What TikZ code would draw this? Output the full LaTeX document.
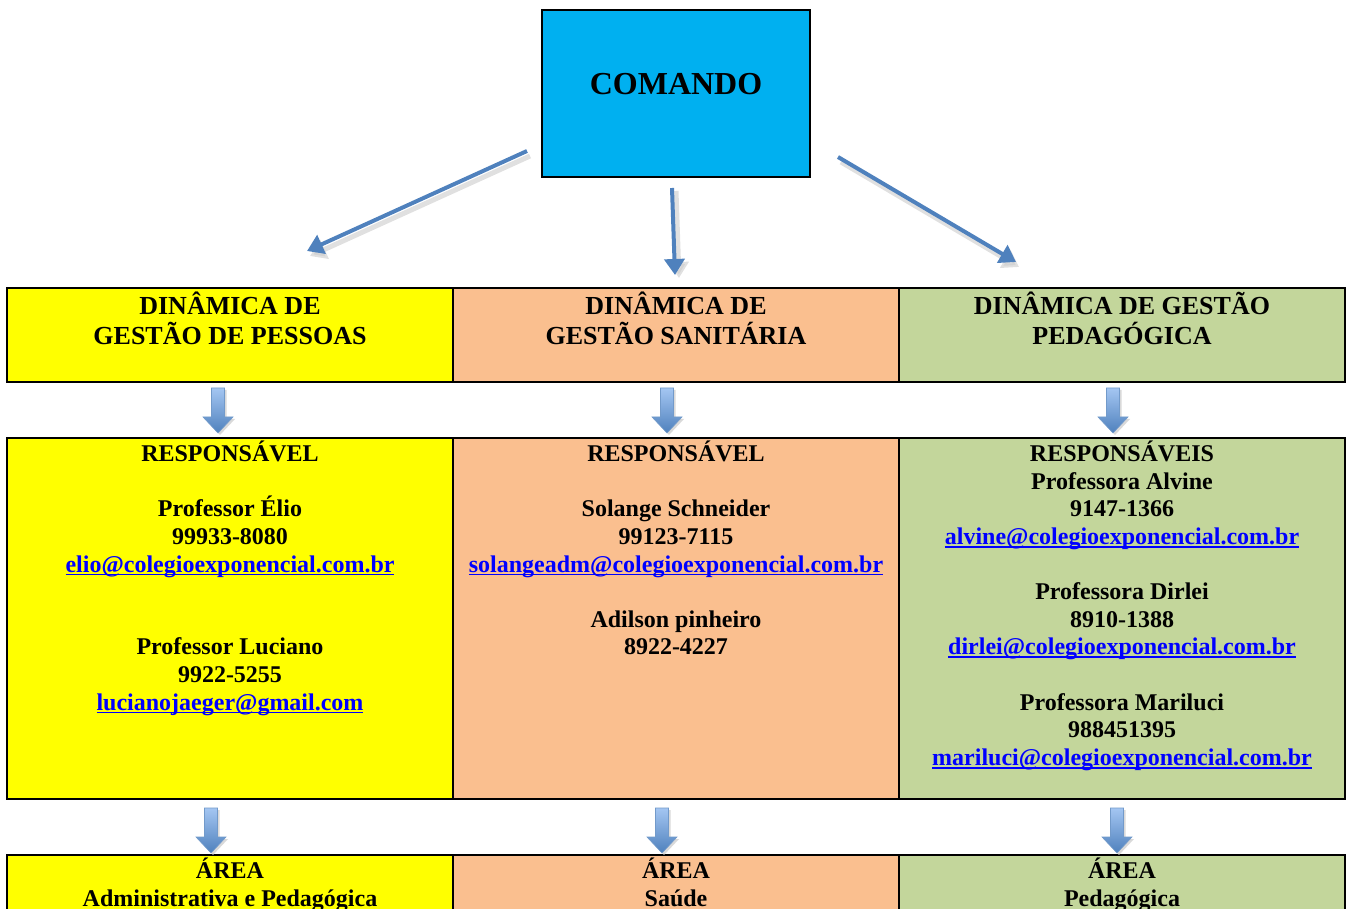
\documentclass[tikz,border=0pt]{standalone}
\usepackage{fontspec}
\setmainfont{Liberation Serif}
\usetikzlibrary{positioning}
\usetikzlibrary{arrows.meta}
\definecolor{cmdblue}{HTML}{00B0F0}
\definecolor{pyellow}{HTML}{FFFF00}
\definecolor{ppeach}{HTML}{FABF8F}
\definecolor{pgreen}{HTML}{C3D69B}
\definecolor{arrblue}{HTML}{4F81BD}
\definecolor{blockhi}{HTML}{A4C6F2}
\definecolor{linkblue}{HTML}{0000FF}
\newcommand{\tightls}{\lineskiplimit=-20pt\relax}
\tikzset{
    cmdbox/.style = {rectangle, line width=1pt, draw=black, fill=cmdblue, minimum width=134pt, minimum height=83.5pt, text depth=9.5pt, font=\bfseries\fontsize{16}{19}\selectfont},
    cell/.style = {rectangle, line width=1pt, draw=black, minimum width=223pt},
    celly/.style = {cell, fill=pyellow},
    cellp/.style = {cell, fill=ppeach},
    cellg/.style = {cell, fill=pgreen},
    celltxt/.style = {align=center, inner sep=0pt, font=\bfseries\fontsize{12}{13.8}\selectfont\tightls},
    headtxt/.style = {celltxt, font=\bfseries\fontsize{13}{15}\selectfont\tightls},
    edgeb/.style = {-{Triangle[length=8pt,width=10pt]}, line width=2pt, arrblue},
    edges/.style = {-{Triangle[length=8pt,width=10pt]}, line width=2.5pt, black!20, opacity=0.6},
    downarr/.pic = {
        \fill[black!15] (-4.5,2) -- (8.5,2) -- (8.5,31) -- (17,31) -- (2,47) -- (-13,31) -- (-4.5,31) -- cycle;
        \shade[top color=blockhi, bottom color=arrblue, draw=arrblue!80!white, line width=0.3pt]
            (-6.5,0) -- (6.5,0) -- (6.5,29) -- (15,29) -- (0,45) -- (-15,29) -- (-6.5,29) -- cycle;
    }
}
\newcommand{\mail}[1]{\textcolor{linkblue}{\setbox0\hbox{#1}\rlap{\rule[-1.6pt]{\wd0}{0.9pt}}\box0}}

\begin{document}
\begin{tikzpicture}[x=0.5pt,y=-0.5pt]
\clip (0,0) rectangle (1346,909);
\node[cmdbox] at (676,93.5) (cmd) {COMANDO};
%
\node[celly, minimum height=47pt] at (230,335) (g1) {};
\node[cellp, minimum height=47pt] at (676,335) (g2) {};
\node[cellg, minimum height=47pt] at (1122,335) (g3) {};
\node[headtxt, below=2.3pt of g1.north] (g1t) {\strut DINÂMICA DE\\GESTÃO DE PESSOAS};
\node[headtxt, below=2.3pt of g2.north] (g2t) {\strut DINÂMICA DE\\GESTÃO SANITÁRIA};
\node[headtxt, below=2.3pt of g3.north] (g3t) {\strut DINÂMICA DE GESTÃO\\PEDAGÓGICA};
%
\node[celly, minimum height=180.5pt] at (230,618.5) (r1) {};
\node[cellp, minimum height=180.5pt] at (676,618.5) (r2) {};
\node[cellg, minimum height=180.5pt] at (1122,618.5) (r3) {};
\node[celltxt, below=1.9pt of r1.north] (r1t) {\strut RESPONSÁVEL\\[13.8pt]
    Professor Élio\\99933-8080\\\mail{elio@colegioexponencial.com.br}\\[27.6pt]
    Professor Luciano\\9922-5255\\\mail{lucianojaeger@gmail.com}};
\node[celltxt, below=1.9pt of r2.north] (r2t) {\strut RESPONSÁVEL\\[13.8pt]
    Solange Schneider\\99123-7115\\\mail{solangeadm@colegioexponencial.com.br}\\[13.8pt]
    Adilson pinheiro\\8922-4227};
\node[celltxt, below=1.9pt of r3.north] (r3t) {\strut RESPONSÁVEIS\\Professora Alvine\\9147-1366\\
    \mail{alvine@colegioexponencial.com.br}\\[13.8pt]
    Professora Dirlei\\8910-1388\\\mail{dirlei@colegioexponencial.com.br}\\[13.8pt]
    Professora Mariluci\\988451395\\\mail{mariluci@colegioexponencial.com.br}};
%
\node[celly, minimum height=60pt] at (230,915) (a1) {};
\node[cellp, minimum height=60pt] at (676,915) (a2) {};
\node[cellg, minimum height=60pt] at (1122,915) (a3) {};
\node[celltxt, below=1.9pt of a1.north] (a1t) {\strut ÁREA\\Administrativa e Pedagógica};
\node[celltxt, below=1.9pt of a2.north] (a2t) {\strut ÁREA\\Saúde};
\node[celltxt, below=1.9pt of a3.north] (a3t) {\strut ÁREA\\Pedagógica};
%
\coordinate (c1) at (527,151); \coordinate (e1) at (307,251);
\coordinate (c2) at (672,188); \coordinate (e2) at (675,275);
\coordinate (c3) at (838,157); \coordinate (e3) at (1016,262);
\draw[edges] ([shift={(3,5)}]c1) -- ([shift={(3,5)}]e1);
\draw[edges] ([shift={(4,3)}]c2) -- ([shift={(4,3)}]e2);
\draw[edges] ([shift={(3,5)}]c3) -- ([shift={(3,5)}]e3);
\draw[edgeb] (c1) -- (e1);
\draw[edgeb] (c2) -- (e2);
\draw[edgeb] (c3) -- (e3);
%
\pic at (218,388) {downarr};
\pic at (667,388) {downarr};
\pic at (1113,388) {downarr};
\pic at (211,808) {downarr};
\pic at (662,808) {downarr};
\pic at (1117,808) {downarr};
\end{tikzpicture}
\end{document}
